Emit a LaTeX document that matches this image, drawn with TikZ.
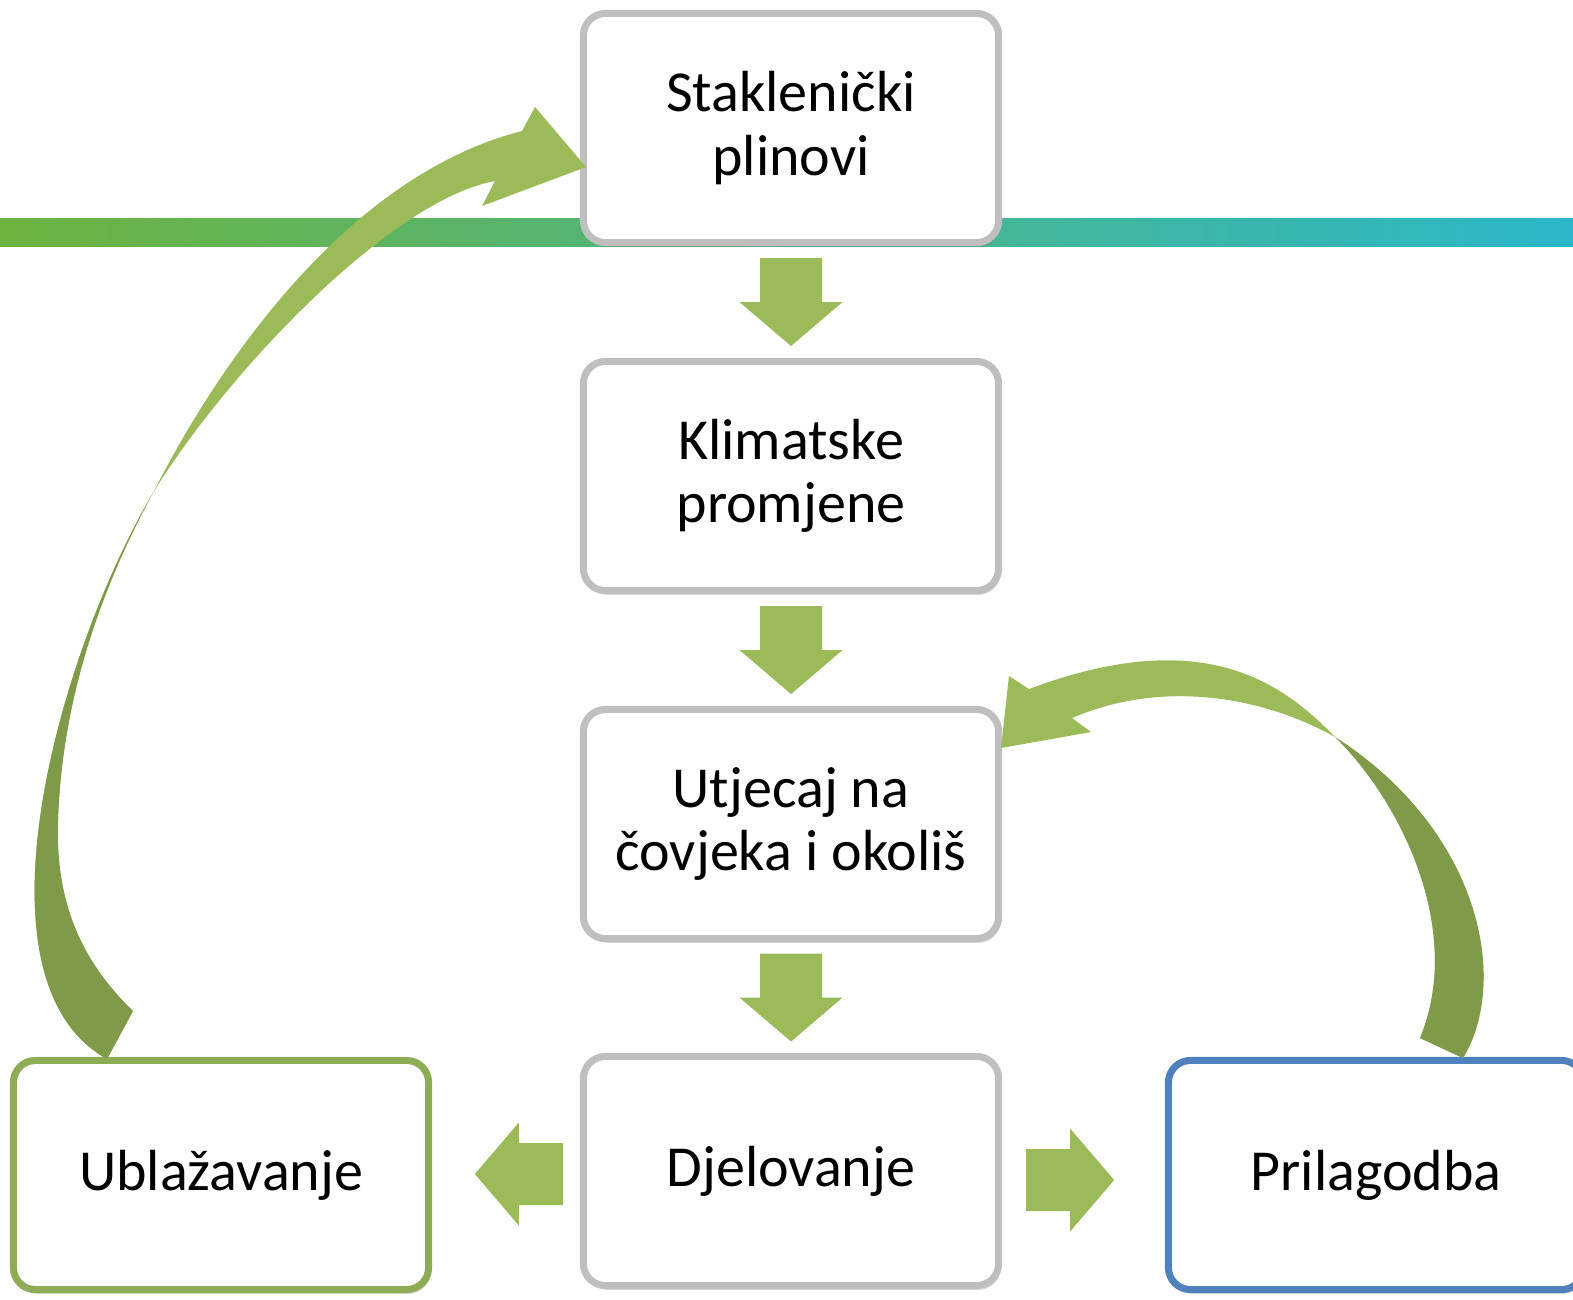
\documentclass[tikz,border=0pt]{standalone}
\usepackage{fontspec}
\setmainfont{Carlito}
\usetikzlibrary{calc,shadows}

\definecolor{boxgray}{HTML}{BFBFBF}
\definecolor{leafgreen}{HTML}{9BBB59}
\definecolor{darkleaf}{HTML}{7F9A48}
\definecolor{mitiggreen}{HTML}{8EAC55}
\definecolor{adaptblue}{HTML}{4F81BD}
\definecolor{barleft}{HTML}{6DB33F}
\definecolor{barright}{HTML}{2BB7C9}

\tikzset{
  stage/.style={draw=boxgray, line width=2pt, rounded corners=0.22cm, fill=white,
    minimum width=4.15cm, minimum height=2.29cm, inner sep=0pt, align=center,
    font=\fontsize{16.5}{18}\selectfont,
    drop shadow={shadow xshift=0.6pt, shadow yshift=-1.2pt, opacity=0.3, fill=black!50}},
  blockarrow/.pic={\fill[leafgreen] (-44,-31) -- (0,-31) -- (0,-51.5) -- (44,0) -- (0,51.5) -- (0,31) -- (-44,31) -- cycle;}
}

\begin{document}
\begin{tikzpicture}[x=0.01cm,y=-0.01cm]
\useasboundingbox (0,0) rectangle (1573,1299);
% band behind the top box
\fill[left color=barleft, right color=barright] (0,218) rectangle (1573,246);

% boxes
\node[stage] (gas) at (791,128) {Staklenički\\plinovi};
\node[stage] (clim) at (791,476) {Klimatske\\promjene};
\node[stage] (impact) at (791,824) {Utjecaj na\\čovjeka i okoliš};
\node[stage] (act) at (791,1171) {Djelovanje};
\node[stage, draw=mitiggreen] (mitig) at (221,1175) {Ublažavanje};
\node[stage, draw=adaptblue] (adapt) at (1376,1175) {Prilagodba};

% block arrows
\coordinate (d1) at ($(gas.south)!0.5!(clim.north)$);
\coordinate (d2) at ($(clim.south)!0.5!(impact.north)$);
\coordinate (d3) at ($(impact.south)!0.5!(act.north)$);
\pic[rotate=-90] at (d1) {blockarrow};
\pic[rotate=-90] at (d2) {blockarrow};
\pic[rotate=-90] at (d3) {blockarrow};
\pic[rotate=180] at ($(act.west)+(-61,3)$) {blockarrow};
\pic at ($(act.east)+(68,9)$) {blockarrow};

% curved arrows, darker below the twist
\fill[leafgreen, path picture={\fill[darkleaf] (0,493) rectangle (300,1100);}]
  (107,1059) .. controls (-35,980) and (60,650) .. (153,493)
  .. controls (200,400) and (330,180) .. (522,131)
  -- (535,107) -- (586,167) -- (482,206) -- (495,181)
  .. controls (390,200) and (225,375) .. (153,493)
  .. controls (100,590) and (62,700) .. (58,820)
  .. controls (55,900) and (80,960) .. (133,1011) -- cycle;
\fill[leafgreen, path picture={\fill[darkleaf] (1335,600) rectangle (1600,1100);}]
  (1463,1058) .. controls (1510,980) and (1480,830) .. (1335,737)
  .. controls (1280,680) and (1200,625) .. (1029,689)
  -- (1009,676) -- (1001,748) -- (1091,732) -- (1072,718)
  .. controls (1160,680) and (1260,695) .. (1335,737)
  .. controls (1400,800) and (1465,930) .. (1420,1038) -- cycle;
\end{tikzpicture}
\end{document}
